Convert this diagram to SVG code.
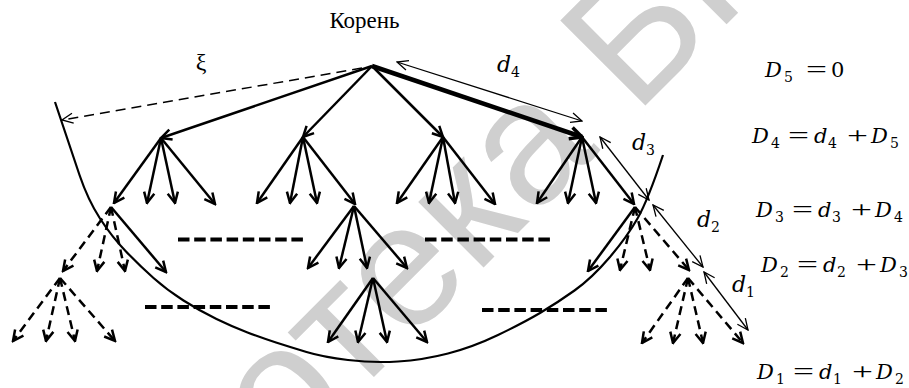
<svg xmlns="http://www.w3.org/2000/svg" width="909" height="388" viewBox="0 0 909 388">
  <defs>
    <style>
      .e { stroke:#000; stroke-width:2.5; fill:none; marker-end:url(#ah); stroke-linecap:butt; }
      .dsh { stroke-dasharray:9 5.5; }
      .thick { stroke-width:4.5; marker-end:url(#ahb); }
      .m { stroke:#000; stroke-width:1.3; fill:none; marker-start:url(#at); marker-end:url(#at); }
      .sep { stroke:#000; stroke-width:4; stroke-dasharray:11.5 4.7; fill:none; }
      .arc { stroke:#000; stroke-width:2.2; fill:none; }
      .lbl { font-family:"Liberation Serif","Times New Roman",serif; fill:#000; }
      .mth { font-family:"DejaVu Serif","Liberation Serif",serif; fill:#000; }
      .it { font-style:italic; }
      .sub { font-size:14px; font-style:normal; }
      .eq { font-family:"DejaVu Serif","Liberation Serif",serif; font-size:21px; fill:#000; }
      .op { font-family:"Liberation Serif","Times New Roman",serif; font-size:23px; }
      .wm { font-family:"Liberation Sans",Arial,sans-serif; font-size:175px; fill:#cfcfcf; }
    </style>
    <marker id="ah" viewBox="0 0 14 14" refX="12.5" refY="7" markerWidth="14" markerHeight="14" orient="auto" markerUnits="userSpaceOnUse">
      <path d="M2,1.8 L12.5,7 L2,12.2" fill="none" stroke="#000" stroke-width="2.5"/>
    </marker>
    <marker id="ahb" viewBox="0 0 16 16" refX="14" refY="8" markerWidth="16" markerHeight="16" orient="auto" markerUnits="userSpaceOnUse">
      <path d="M2,2 L14,8 L2,14" fill="none" stroke="#000" stroke-width="3.5"/>
    </marker>
    <marker id="at" viewBox="0 0 14 14" refX="13" refY="7" markerWidth="14" markerHeight="14" orient="auto-start-reverse" markerUnits="userSpaceOnUse">
      <path d="M2,2 L13,7 L2,12" fill="none" stroke="#000" stroke-width="1.3"/>
    </marker>
  </defs>

  <!-- library stamp in the background -->
  <g id="watermark">
    <text class="wm" x="-72" y="823" transform="rotate(-45 -72 823)">Библиотека БГУИР</text>
  </g>

  <!-- search horizon -->
  <g id="horizon">
    <path class="arc" d="M55,102 Q71,150 79.5,175 Q88,200 100,218.5 Q112,237 126,251.5 Q140,266 153.5,278 Q167,290 183.5,300.5 Q200,311 216.5,319 Q233,327 247.5,332.5 Q262,338 276,342.5 Q290,347 306.5,352 Q323,357 348,360 Q373,363 398,361.5 Q423,360 448,353.5 Q473,347 498,335 Q523,323 540,313 Q557,303 574.5,290.5 Q592,278 609.5,257.5 Q627,237 637.5,218.5 Q648,200 663,155"/>
  </g>

  <g id="node-root">
    <text class="lbl" x="364.5" y="28" font-size="23" text-anchor="middle">Корень</text>
  </g>

  <g id="connectors">
    <!-- root -->
    <g id="edges-root">
      <line class="e" x1="372" y1="66" x2="161" y2="138"/>
      <line class="e" x1="372" y1="66" x2="303" y2="137"/>
      <line class="e" x1="372" y1="66" x2="443" y2="137"/>
      <line class="e thick" x1="372" y1="66" x2="582" y2="137"/>
    </g>
    <!-- node A -->
    <g id="edges-a">
      <line class="e" x1="161" y1="138" x2="114" y2="203"/>
      <line class="e" x1="161" y1="138" x2="147" y2="203"/>
      <line class="e" x1="161" y1="138" x2="175" y2="203"/>
      <line class="e" x1="161" y1="138" x2="215" y2="204"/>
    </g>
    <!-- node B -->
    <g id="edges-b">
      <line class="e" x1="303" y1="137" x2="257" y2="203"/>
      <line class="e" x1="303" y1="137" x2="290" y2="203"/>
      <line class="e" x1="303" y1="137" x2="317" y2="203"/>
      <line class="e" x1="303" y1="137" x2="355" y2="204"/>
    </g>
    <!-- node C -->
    <g id="edges-c">
      <line class="e" x1="443" y1="137" x2="397" y2="203"/>
      <line class="e" x1="443" y1="137" x2="429" y2="203"/>
      <line class="e" x1="443" y1="137" x2="455" y2="203"/>
      <line class="e" x1="443" y1="137" x2="495" y2="204"/>
    </g>
    <!-- node D -->
    <g id="edges-d">
      <line class="e" x1="582" y1="137" x2="537" y2="203"/>
      <line class="e" x1="582" y1="137" x2="568" y2="203"/>
      <line class="e" x1="582" y1="137" x2="596" y2="203"/>
      <line class="e" x1="582" y1="137" x2="634" y2="204"/>
    </g>
    <!-- node F (left border) -->
    <g id="edges-f">
      <line class="e dsh" x1="111" y1="207" x2="63" y2="271"/>
      <line class="e dsh" x1="111" y1="207" x2="97" y2="271"/>
      <line class="e dsh" x1="111" y1="207" x2="125" y2="271"/>
      <line class="e" x1="111" y1="207" x2="166" y2="272"/>
    </g>
    <!-- node G -->
    <g id="edges-g">
      <line class="e" x1="354" y1="206" x2="308" y2="268"/>
      <line class="e" x1="354" y1="206" x2="339" y2="268"/>
      <line class="e" x1="354" y1="206" x2="367" y2="268"/>
      <line class="e" x1="354" y1="206" x2="407" y2="268"/>
    </g>
    <!-- node H -->
    <g id="edges-h">
      <line class="e" x1="373" y1="278" x2="328" y2="342"/>
      <line class="e" x1="373" y1="278" x2="358" y2="342"/>
      <line class="e" x1="373" y1="278" x2="387" y2="342"/>
      <line class="e" x1="373" y1="278" x2="427" y2="342"/>
    </g>
    <!-- node I -->
    <g id="edges-i">
      <line class="e dsh" x1="60" y1="278" x2="13" y2="341"/>
      <line class="e dsh" x1="60" y1="278" x2="46" y2="341"/>
      <line class="e dsh" x1="60" y1="278" x2="75" y2="341"/>
      <line class="e dsh" x1="60" y1="278" x2="115" y2="341"/>
    </g>
    <!-- node E (right border) -->
    <g id="edges-e">
      <line class="e" x1="635" y1="207" x2="588" y2="271"/>
      <line class="e dsh" x1="635" y1="207" x2="620" y2="270"/>
      <line class="e dsh" x1="635" y1="207" x2="650" y2="270"/>
      <line class="e dsh" x1="635" y1="207" x2="689" y2="270"/>
    </g>
    <!-- node J -->
    <g id="edges-j">
      <line class="e dsh" x1="688" y1="278" x2="642" y2="343"/>
      <line class="e dsh" x1="688" y1="278" x2="673" y2="343"/>
      <line class="e dsh" x1="688" y1="278" x2="703" y2="343"/>
      <line class="e dsh" x1="688" y1="278" x2="743" y2="343"/>
    </g>
    <!-- radius xi -->
    <line id="edge-xi" x1="362" y1="68" x2="62" y2="120" stroke="#000" stroke-width="1.5" stroke-dasharray="10 6" fill="none" marker-end="url(#at)"/>
  </g>

  <!-- omitted levels -->
  <g id="separators">
    <line class="sep" x1="178" y1="239.5" x2="303" y2="239.5"/>
    <line class="sep" x1="145" y1="307" x2="272" y2="307"/>
    <line class="sep" x1="425" y1="239.5" x2="550" y2="239.5"/>
    <line class="sep" x1="482" y1="310" x2="607" y2="310"/>
  </g>

  <!-- step lengths along the path -->
  <g id="measures">
    <line class="m" x1="397" y1="62" x2="582" y2="121"/>
    <line class="m" x1="600" y1="137" x2="649" y2="200"/>
    <line class="m" x1="653" y1="205" x2="703" y2="267"/>
    <line class="m" x1="704" y1="272" x2="748" y2="330"/>
  </g>

  <g id="labels">
    <text class="lbl" x="201" y="70" font-size="24" text-anchor="middle">ξ</text>
    <text class="mth" font-size="22"><tspan class="it" x="497" y="72">d</tspan><tspan class="sub" x="511" y="77">4</tspan></text>
    <text class="mth" font-size="22"><tspan class="it" x="632" y="150">d</tspan><tspan class="sub" x="646" y="155">3</tspan></text>
    <text class="mth" font-size="22"><tspan class="it" x="697" y="227">d</tspan><tspan class="sub" x="711" y="232">2</tspan></text>
    <text class="mth" font-size="22"><tspan class="it" x="732" y="292">d</tspan><tspan class="sub" x="746" y="297">1</tspan></text>
  </g>

  <g id="equations" class="eq">
    <!-- D5 = 0 -->
    <text><tspan class="it" x="765" y="77">D</tspan><tspan class="sub" x="784" y="82">5</tspan><tspan x="831" y="77">0</tspan></text>
    <text class="op" x="806" y="77" textLength="21" lengthAdjust="spacingAndGlyphs">=</text>
    <!-- D4 = d4 + D5 -->
    <text><tspan class="it" x="752" y="143">D</tspan><tspan class="sub" x="771" y="148">4</tspan><tspan class="it" x="814" y="143">d</tspan><tspan class="sub" x="828" y="148">4</tspan><tspan class="it" x="871" y="143">D</tspan><tspan class="sub" x="890" y="148">5</tspan></text>
    <text class="op" x="788" y="143" textLength="21" lengthAdjust="spacingAndGlyphs">=</text>
    <text class="op" x="847" y="143" textLength="21" lengthAdjust="spacingAndGlyphs">+</text>
    <!-- D3 = d3 + D4 -->
    <text><tspan class="it" x="756" y="217">D</tspan><tspan class="sub" x="775" y="222">3</tspan><tspan class="it" x="818" y="217">d</tspan><tspan class="sub" x="832" y="222">3</tspan><tspan class="it" x="875" y="217">D</tspan><tspan class="sub" x="894" y="222">4</tspan></text>
    <text class="op" x="792" y="217" textLength="21" lengthAdjust="spacingAndGlyphs">=</text>
    <text class="op" x="851" y="217" textLength="21" lengthAdjust="spacingAndGlyphs">+</text>
    <!-- D2 = d2 + D3 -->
    <text><tspan class="it" x="761" y="272">D</tspan><tspan class="sub" x="780" y="277">2</tspan><tspan class="it" x="823" y="272">d</tspan><tspan class="sub" x="837" y="277">2</tspan><tspan class="it" x="880" y="272">D</tspan><tspan class="sub" x="899" y="277">3</tspan></text>
    <text class="op" x="797" y="272" textLength="21" lengthAdjust="spacingAndGlyphs">=</text>
    <text class="op" x="856" y="272" textLength="21" lengthAdjust="spacingAndGlyphs">+</text>
    <!-- D1 = d1 + D2 -->
    <text><tspan class="it" x="757" y="379">D</tspan><tspan class="sub" x="776" y="384">1</tspan><tspan class="it" x="819" y="379">d</tspan><tspan class="sub" x="833" y="384">1</tspan><tspan class="it" x="876" y="379">D</tspan><tspan class="sub" x="895" y="384">2</tspan></text>
    <text class="op" x="793" y="379" textLength="21" lengthAdjust="spacingAndGlyphs">=</text>
    <text class="op" x="852" y="379" textLength="21" lengthAdjust="spacingAndGlyphs">+</text>
  </g>
</svg>
